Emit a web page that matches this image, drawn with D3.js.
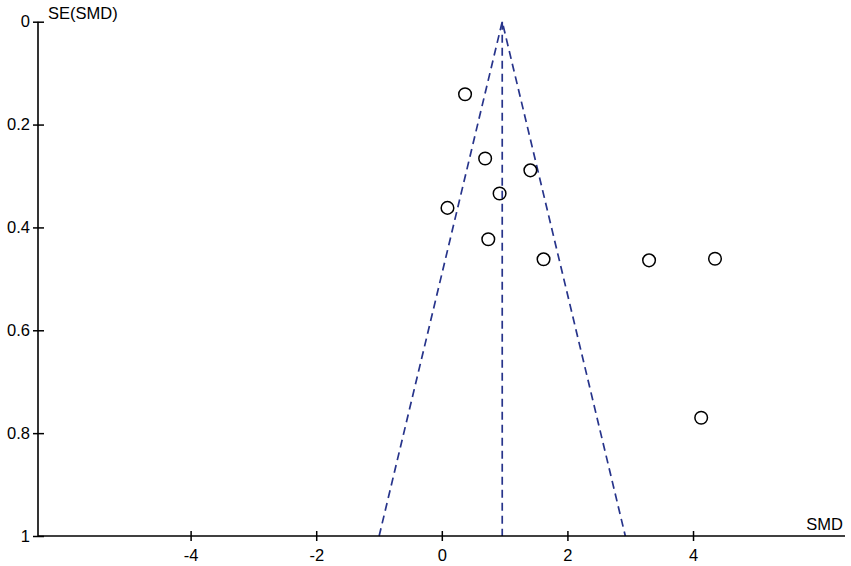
<!DOCTYPE html>
<html>
<head>
<meta charset="utf-8">
<script src="https://cdn.jsdelivr.net/npm/d3@7"></script>
<style>
  body { margin: 0; background: #fff; }
  text { font-family: "Liberation Sans", Arial, sans-serif; }
</style>
</head>
<body>
<div id="funnel"></div>
<script>
// study effect sizes and their standard errors
var smd = [0.37, 0.69, 1.41, 0.92, 0.09, 0.74, 1.62, 3.30, 4.35, 4.13];
var se  = [0.141, 0.266, 0.289, 0.334, 0.362, 0.423, 0.462, 0.464, 0.461, 0.770];

var pooled = 0.962;
var xTicks = [-4, -2, 0, 2, 4];
var yTicks = [0, 0.2, 0.4, 0.6, 0.8, 1];

var svgWidth = 851;
var svgHeight = 566;

var margin = { top: 21.7, right: 6, bottom: 30, left: 38 };

var width = svgWidth - margin.left - margin.right;
var height = 536 - margin.top;

var svg = d3.select("#funnel")
  .append("svg")
  .attr("width", svgWidth)
  .attr("height", svgHeight);

var chartGroup = svg.append("g")
  .attr("transform", `translate(${margin.left}, ${margin.top})`);

var xScale = d3.scaleLinear()
  .domain([-6.43, 6.42])
  .range([0, width]);

var yScale = d3.scaleLinear()
  .domain([0, 1])
  .range([0, height]);

// funnel lines (95% limits)
var navy = "#27348b";
var funnel = [[pooled - 1.96, 1], [pooled, 0], [pooled + 1.96, 1]];
chartGroup.append("path")
  .attr("d", d3.line().x(d => xScale(d[0])).y(d => yScale(d[1]))(funnel))
  .attr("fill", "none")
  .attr("stroke", navy)
  .attr("stroke-width", 1.7)
  .attr("stroke-dasharray", "8,5");

chartGroup.append("line")
  .attr("x1", xScale(pooled)).attr("x2", xScale(pooled))
  .attr("y1", yScale(0)).attr("y2", yScale(1))
  .attr("stroke", navy)
  .attr("stroke-width", 1.7)
  .attr("stroke-dasharray", "8,5");

// axes
var bottomAxis = d3.axisBottom(xScale)
  .tickValues(xTicks)
  .tickSize(5)
  .tickPadding(8)
  .tickFormat(d => String(d));

var leftAxis = d3.axisLeft(yScale)
  .tickValues(yTicks)
  .tickSize(5)
  .tickPadding(3)
  .tickFormat(d => String(d));

var xAxisG = chartGroup.append("g")
  .attr("transform", `translate(0, ${height})`)
  .call(bottomAxis);

var yAxisG = chartGroup.append("g")
  .call(leftAxis);

[xAxisG, yAxisG].forEach(function(g) {
  g.attr("font-size", null);
  g.select(".domain").attr("d", null);
  g.selectAll(".tick line").attr("stroke", "#000").attr("stroke-width", 1.5);
  g.selectAll(".tick text")
    .attr("fill", "#000")
    .style("font-size", "16.5px")
    .style("font-family", "'Liberation Sans', Arial, sans-serif");
});

// ticks cross the axis line
xAxisG.selectAll(".tick").append("line")
  .attr("y2", -5).attr("stroke", "#000").attr("stroke-width", 1.5);
yAxisG.selectAll(".tick").append("line")
  .attr("x2", 6).attr("stroke", "#000").attr("stroke-width", 1.5);

chartGroup.append("line")
  .attr("x1", 0).attr("x2", width)
  .attr("y1", height).attr("y2", height)
  .attr("stroke", "#000").attr("stroke-width", 1.6);

chartGroup.append("line")
  .attr("x1", 0).attr("x2", 0)
  .attr("y1", 0).attr("y2", height)
  .attr("stroke", "#000").attr("stroke-width", 1.6);

// study points
chartGroup.selectAll("circle")
  .data(smd)
  .enter()
  .append("circle")
  .attr("cx", d => xScale(d))
  .attr("cy", (d, i) => yScale(se[i]))
  .attr("r", 6.3)
  .attr("fill", "none")
  .attr("stroke", "#000")
  .attr("stroke-width", 1.5);

// axis labels
svg.append("text")
  .attr("x", 48)
  .attr("y", 18.5)
  .style("font-size", "16.5px")
  .text("SE(SMD)");

svg.append("text")
  .attr("x", 843)
  .attr("y", 530)
  .attr("text-anchor", "end")
  .style("font-size", "16.5px")
  .text("SMD");
</script>
</body>
</html>
